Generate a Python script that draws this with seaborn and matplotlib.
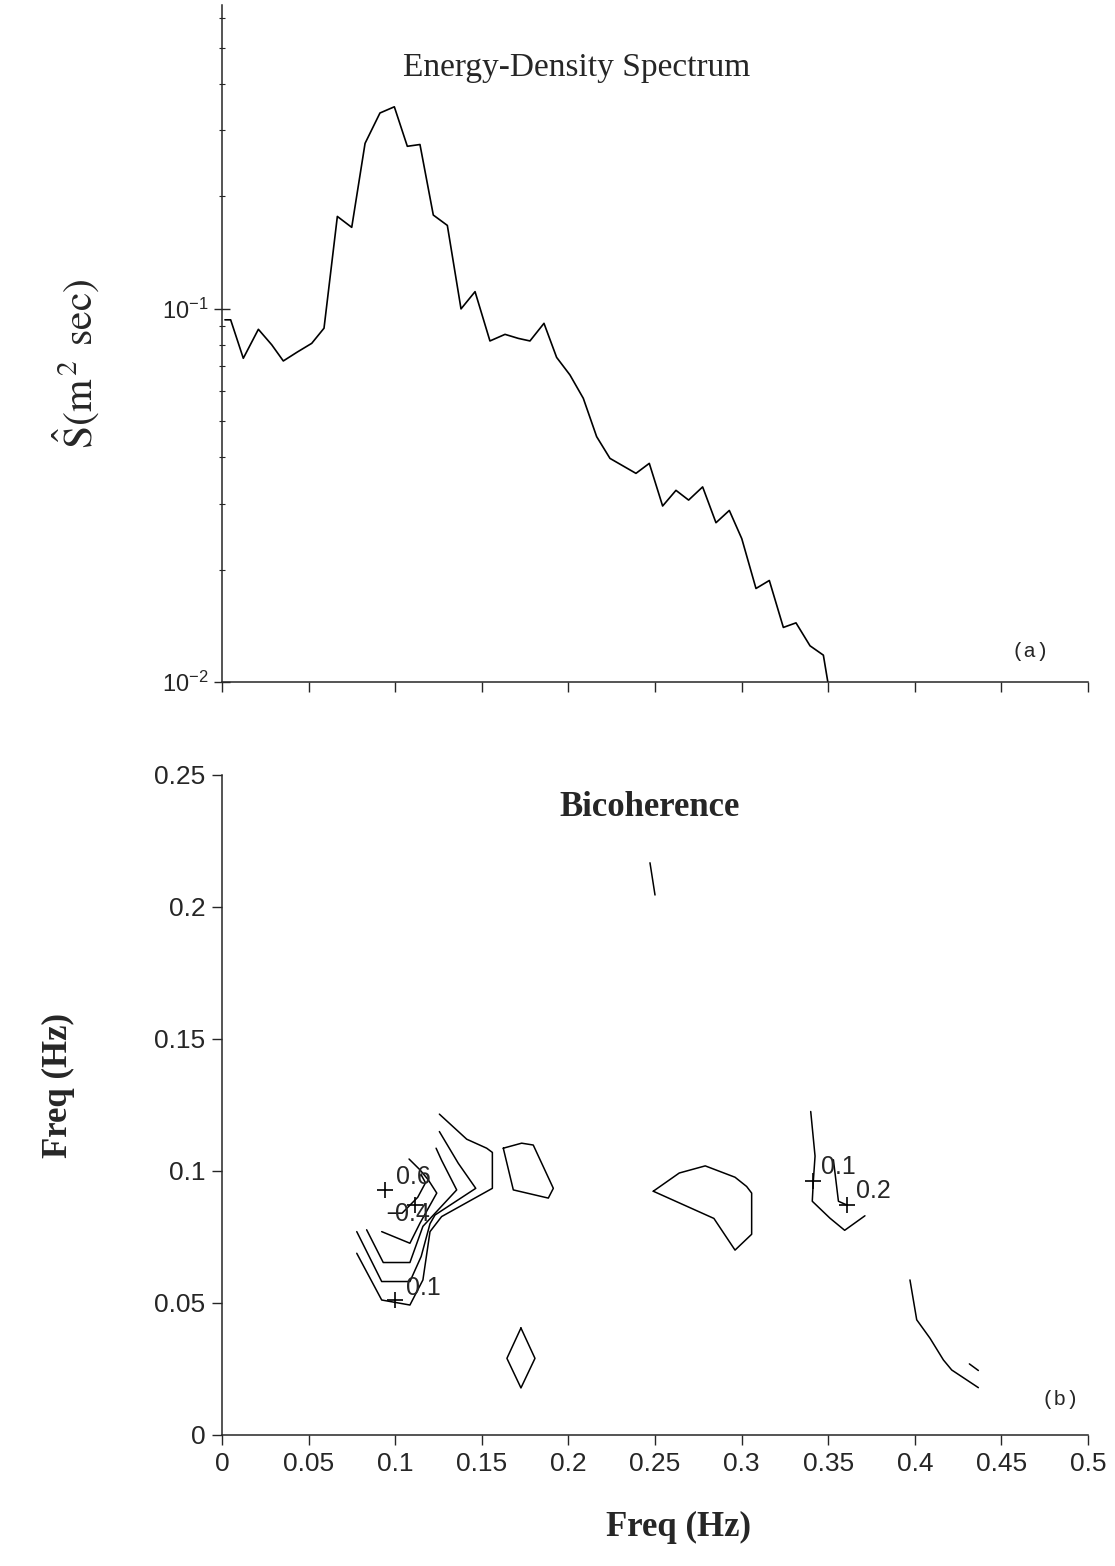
import matplotlib
matplotlib.use("Agg")
import matplotlib.pyplot as plt
import matplotlib.ticker as mticker
import seaborn as sns

# ---------------- data: energy-density spectrum (panel a) ----------------
spec_freq = [0.0017, 0.0050, 0.0123, 0.0210, 0.0287, 0.0354, 0.0435, 0.0518, 0.0589,
             0.0666, 0.0749, 0.0826, 0.0912, 0.0995, 0.1070, 0.1143, 0.1220, 0.1301,
             0.1380, 0.1461, 0.1547, 0.1634, 0.1711, 0.1778, 0.1859, 0.1932, 0.2009,
             0.2086, 0.2163, 0.2240, 0.2390, 0.2467, 0.2544, 0.2621, 0.2694, 0.2775,
             0.2852, 0.2929, 0.3001, 0.3083, 0.3160, 0.3241, 0.3314, 0.3395, 0.3472,
             0.3501]
spec_S = [0.0933, 0.0933, 0.0736, 0.0880, 0.0800, 0.0724, 0.0765, 0.0807, 0.0886,
          0.1765, 0.1650, 0.2770, 0.3340, 0.3470, 0.2720, 0.2750, 0.1780, 0.1670,
          0.0998, 0.1110, 0.0819, 0.0853, 0.0832, 0.0819, 0.0913, 0.0740, 0.0664,
          0.0575, 0.0454, 0.0397, 0.0362, 0.0385, 0.0296, 0.0326, 0.0307, 0.0333,
          0.0267, 0.0288, 0.0242, 0.0178, 0.0187, 0.0140, 0.0144, 0.0125, 0.0118,
          0.0098]

# ---------------- data: bicoherence contour paths (panel b) ----------------
# lower-left nested contours
c1_x = [0.0778, 0.0922, 0.1085, 0.1160, 0.1201, 0.1268, 0.1561, 0.1561, 0.1528, 0.1413, 0.1255]
c1_y = [0.0688, 0.0511, 0.0492, 0.0587, 0.0770, 0.0827, 0.0934, 0.1070, 0.1086, 0.1120, 0.1215]
c2_x = [0.0778, 0.0922, 0.1085, 0.1150, 0.1201, 0.1230, 0.1465, 0.1364, 0.1255]
c2_y = [0.0770, 0.0581, 0.0581, 0.0676, 0.0800, 0.0833, 0.0934, 0.1029, 0.1149]
c3_x = [0.0835, 0.0931, 0.1085, 0.1160, 0.1355, 0.1268, 0.1236]
c3_y = [0.0777, 0.0653, 0.0653, 0.0790, 0.0928, 0.1040, 0.1086]
c4_x = [0.0922, 0.1085, 0.1143, 0.1240, 0.1191, 0.1143, 0.1080]
c4_y = [0.0770, 0.0726, 0.0802, 0.0916, 0.0966, 0.1004, 0.1045]
c5_x = [0.0960, 0.1040, 0.1130, 0.1175, 0.1150]
c5_y = [0.0840, 0.0840, 0.0900, 0.0955, 0.0985]
# small closed contour near 0.17 Hz
c6_x = [0.1624, 0.1730, 0.1797, 0.1913, 0.1884, 0.1682, 0.1624]
c6_y = [0.1086, 0.1105, 0.1098, 0.0934, 0.0897, 0.0928, 0.1086]
# closed contour near 0.28 Hz
c7_x = [0.2490, 0.2640, 0.2790, 0.2962, 0.3029, 0.3058, 0.3058, 0.2962, 0.2840, 0.2490]
c7_y = [0.0923, 0.0992, 0.1019, 0.0976, 0.0941, 0.0916, 0.0760, 0.0700, 0.0820, 0.0923]
# right cluster contours
c8_x = [0.3399, 0.3424, 0.3414, 0.3408, 0.3510, 0.3595, 0.3712]
c8_y = [0.1225, 0.1056, 0.0961, 0.0885, 0.0821, 0.0775, 0.0830]
c9_x = [0.3530, 0.3559, 0.3607]
c9_y = [0.1042, 0.0885, 0.0871]
# diamond near 0.17 Hz, low frequency
c10_x = [0.1726, 0.1807, 0.1726, 0.1645, 0.1726]
c10_y = [0.0405, 0.0290, 0.0178, 0.0290, 0.0405]
# bottom-right fragments
c11_x = [0.3972, 0.4011, 0.4088, 0.4165, 0.4213, 0.4367]
c11_y = [0.0587, 0.0436, 0.0366, 0.0284, 0.0246, 0.0179]
c12_x = [0.4315, 0.4367]
c12_y = [0.0269, 0.0244]
# upper fragment
c13_x = [0.2471, 0.2500]
c13_y = [0.2167, 0.2045]

contour_paths = [(c1_x, c1_y), (c2_x, c2_y), (c3_x, c3_y), (c4_x, c4_y), (c5_x, c5_y),
                 (c6_x, c6_y), (c7_x, c7_y), (c8_x, c8_y), (c9_x, c9_y), (c10_x, c10_y),
                 (c11_x, c11_y), (c12_x, c12_y), (c13_x, c13_y)]

# contour labels and their "+" anchor markers
label_text = ["0.6", "0.4", "0.1", "0.1", "0.2"]
label_x = [0.1105, 0.1100, 0.1165, 0.3559, 0.3761]
label_y = [0.0978, 0.0838, 0.0556, 0.1016, 0.0922]
plus_x = [0.0941, 0.1114, 0.0999, 0.3414, 0.3607]
plus_y = [0.0928, 0.0871, 0.0511, 0.0961, 0.0871]

# axis tick labels
freq_ticks = [0.0, 0.05, 0.1, 0.15, 0.2, 0.25, 0.3, 0.35, 0.4, 0.45, 0.5]
freq_ticklabels = ["0", "0.05", "0.1", "0.15", "0.2", "0.25", "0.3", "0.35", "0.4", "0.45", "0.5"]
ybic_ticks = [0.0, 0.05, 0.1, 0.15, 0.2, 0.25]
ybic_ticklabels = ["0", "0.05", "0.1", "0.15", "0.2", "0.25"]
spec_ticks = [0.01, 0.1]
spec_ticklabels = [r"$10^{-2}$", r"$10^{-1}$"]

# ---------------- styling ----------------
sns.set_style("ticks")
plt.rcParams["font.family"] = ["Liberation Sans", "DejaVu Sans"]
plt.rcParams["mathtext.fontset"] = "custom"
plt.rcParams["mathtext.rm"] = "Liberation Sans"
plt.rcParams["mathtext.it"] = "Liberation Sans:italic"
plt.rcParams["axes.linewidth"] = 1.1

SERIF = ["Liberation Serif", "DejaVu Serif"]
MONO = ["Liberation Mono", "DejaVu Sans Mono"]

fig = plt.figure(figsize=(11.15, 15.66), dpi=100)
fig.patch.set_facecolor("white")
ax1 = fig.add_axes([0.1991, 0.5645, 0.7767, 0.4323])
ax2 = fig.add_axes([0.1991, 0.0837, 0.7767, 0.4215])

# ---- panel (a) ----
sns.lineplot(x=spec_freq, y=spec_S, ax=ax1, color="black", lw=1.2,
             sort=False, estimator=None)
ax1.set_yscale("log")
ax1.set_xlim(0, 0.5)
ax1.set_ylim(0.01, 0.65)
ax1.set_xticks(freq_ticks)
ax1.set_xticklabels([])
ax1.yaxis.set_major_locator(mticker.FixedLocator(spec_ticks))
ax1.yaxis.set_major_formatter(mticker.FixedFormatter(spec_ticklabels))
ax1.yaxis.set_minor_locator(mticker.LogLocator(base=10, subs=range(2, 10)))
ax1.yaxis.set_minor_formatter(mticker.NullFormatter())
ax1.tick_params(axis="y", which="major", direction="inout", length=12, width=1.0,
                labelsize=17, pad=4)
ax1.tick_params(axis="y", which="minor", direction="inout", length=5, width=0.8)
ax1.tick_params(axis="x", which="major", direction="out", length=7, width=1.0)
sns.despine(ax=ax1)
ax1.set_ylabel(r"$\hat{\mathrm{S}}(\mathrm{m}^{\,2}\;\,\mathrm{sec})$", fontsize=30,
               math_fontfamily="stix")
ax1.yaxis.set_label_coords(-0.140, 0.47)
ax1.text(0.409, 0.907, "Energy-Density Spectrum", transform=ax1.transAxes,
         ha="center", va="center", fontsize=24, family=SERIF)
ax1.text(0.4665, 0.0121, "(a)", ha="center", va="center", fontsize=15, family=MONO)

# ---- panel (b) ----
for px, py in contour_paths:
    sns.lineplot(x=px, y=py, ax=ax2, color="black", lw=1.1,
                 sort=False, estimator=None)
ax2.plot(plus_x, plus_y, linestyle="none", marker="+", color="black",
         markersize=11, markeredgewidth=1.2)
for t, lx, ly in zip(label_text, label_x, label_y):
    ax2.text(lx, ly, t, ha="center", va="center", fontsize=18)
ax2.text(0.484, 0.0133, "(b)", ha="center", va="center", fontsize=15, family=MONO)

ax2.set_xlim(0, 0.5)
ax2.set_ylim(0, 0.25)
ax2.set_xticks(freq_ticks)
ax2.set_xticklabels(freq_ticklabels)
ax2.set_yticks(ybic_ticks)
ax2.set_yticklabels(ybic_ticklabels)
ax2.tick_params(axis="both", which="major", direction="out", length=7, width=1.0,
                labelsize=19, pad=5)
sns.despine(ax=ax2)
ax2.set_xlabel("Freq (Hz)", fontsize=25, fontweight="bold", family=SERIF)
ax2.xaxis.set_label_coords(0.527, -0.115)
ax2.set_ylabel("Freq (Hz)", fontsize=25, fontweight="bold", family=SERIF)
ax2.yaxis.set_label_coords(-0.170, 0.53)
ax2.text(0.494, 0.95, "Bicoherence", transform=ax2.transAxes,
         ha="center", va="center", fontsize=25, fontweight="bold", family=SERIF)

fig.savefig("out.png", dpi=100, facecolor="white")
